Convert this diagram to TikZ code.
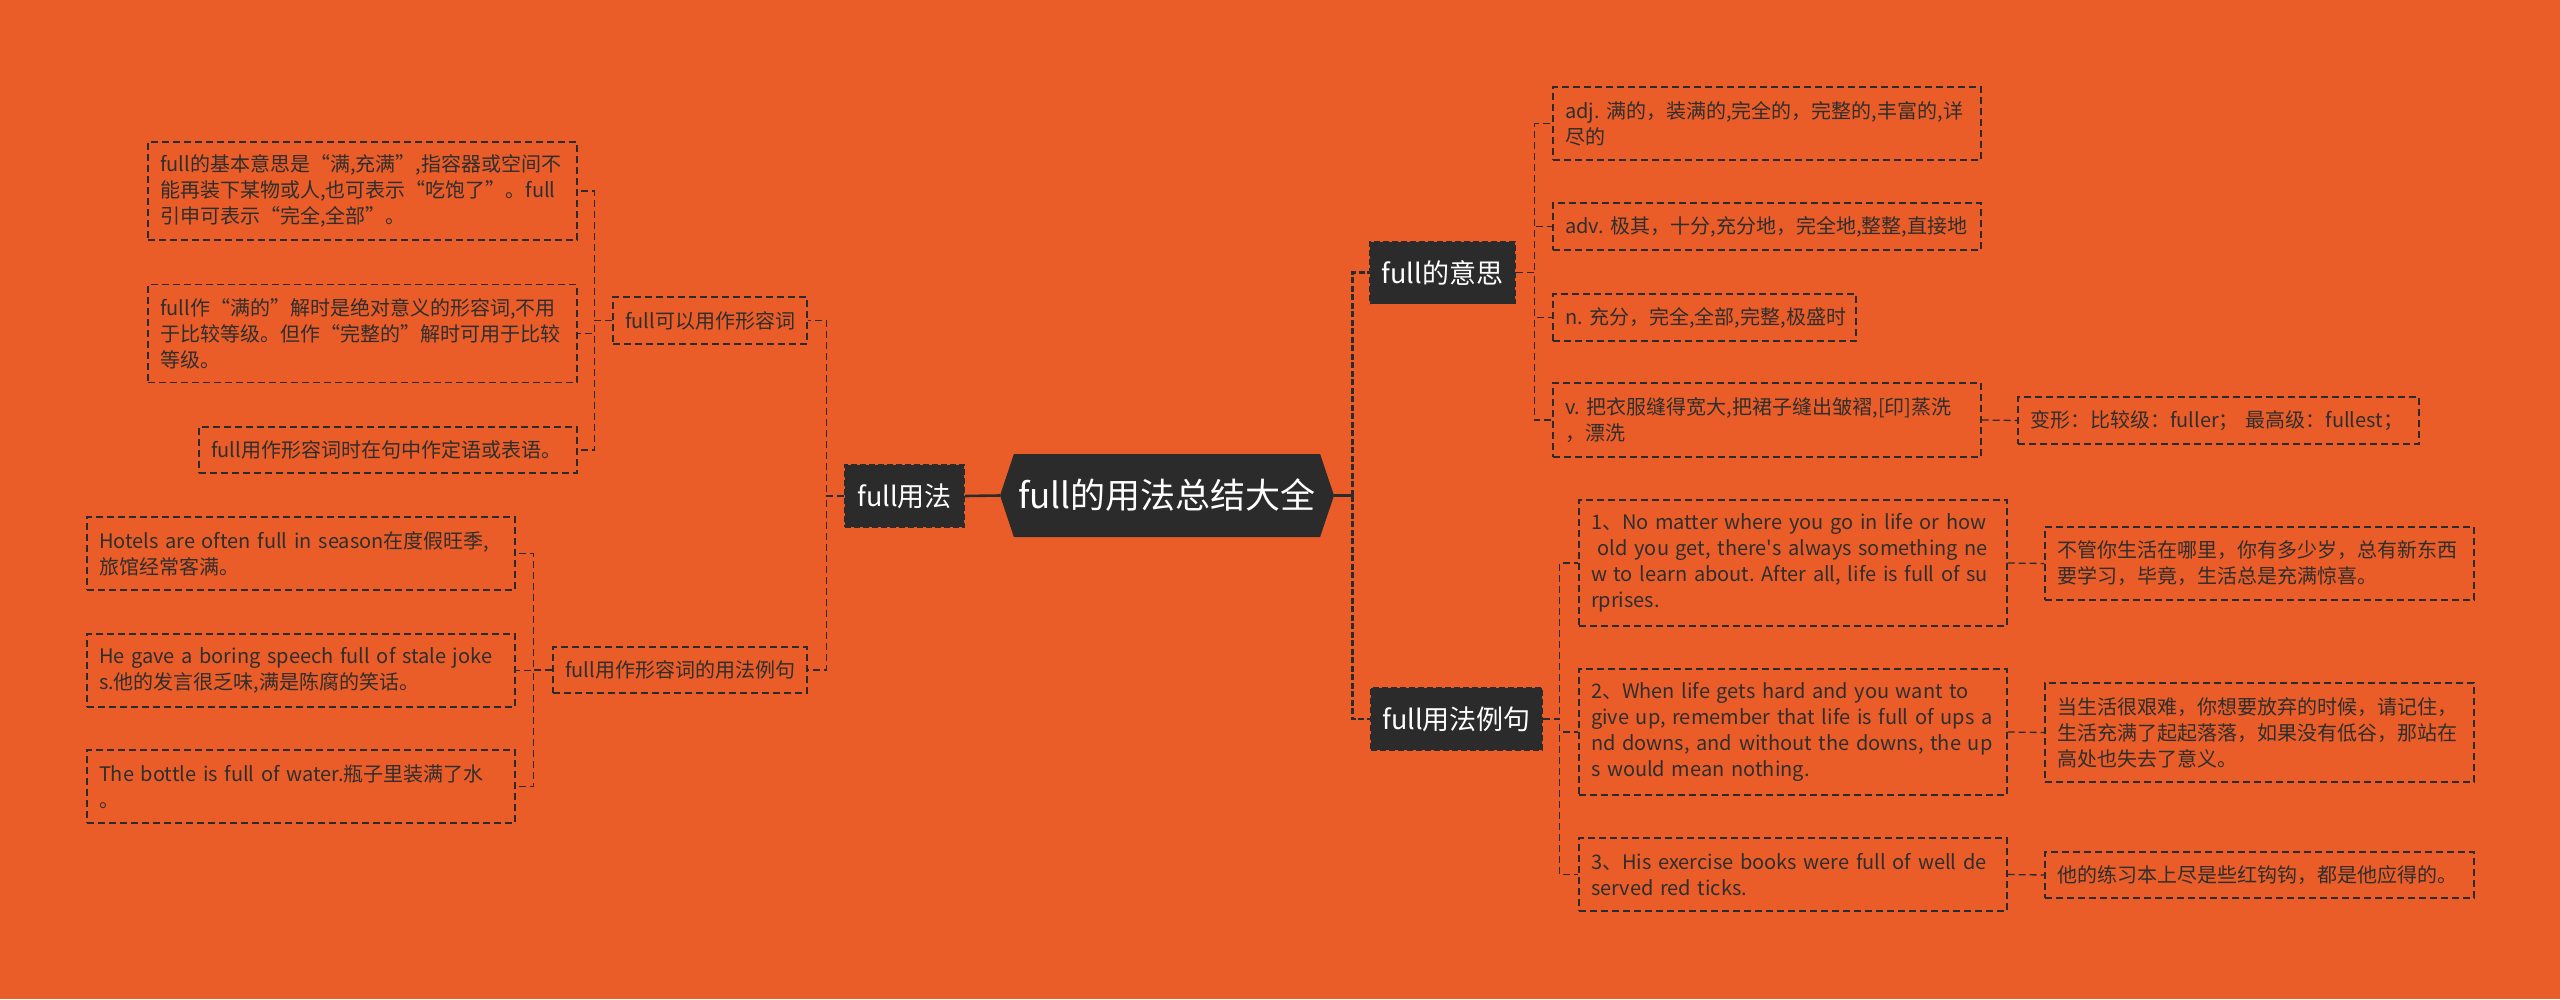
\documentclass[tikz,border=0pt]{standalone}
\usepackage{fontspec}
\setmainfont{Noto Sans CJK SC}[Ligatures=TeXOff]
\usetikzlibrary{shapes.symbols}
\definecolor{bg}{HTML}{EA5D28}
\definecolor{dk}{HTML}{2B2B2B}
\definecolor{tx}{HTML}{2E2E2E}
\frenchspacing
\begin{document}
\begin{tikzpicture}[x=1pt,y=-1pt,
 leaf/.style={draw=dk, line width=1.3pt, dash pattern=on 7pt off 4pt, text=tx,
   font=\fontsize{20}{26}\selectfont, align=left, inner xsep=12pt, inner ysep=0pt},
 lf/.style 2 args={leaf, text width=#1, minimum height=#2},
 topic/.style={fill=dk, draw=dk, line width=1.5pt, dash pattern=on 6pt off 3pt, text=white,
   font=\fontsize{27}{32}\selectfont, inner sep=0pt, minimum height=62pt},
 conn/.style={draw=dk, line width=1.3pt, dash pattern=on 7pt off 4pt},
 mainconn/.style={draw=dk, line width=2.6pt, dash pattern=on 6pt off 2.5pt},
 stub/.style={draw=dk, line width=2.6pt}
]
\fill[bg] (0,0) rectangle (2560,999);
\useasboundingbox (0,0) rectangle (2560,999);

% root and topics
\node[signal, signal to=west and east, signal pointer angle=143, fill=dk, text=white,
  font=\fontsize{35}{40}\selectfont, minimum width=334pt, minimum height=83pt, inner sep=0pt]
  (root) at (1167,495.5) {full的用法总结大全};
\node[topic, minimum width=119pt] (L1) at (904.5,496) {full用法};
\node[topic, minimum width=145pt] (R1) at (1442.5,272.5) {full的意思};
\node[topic, minimum width=171pt] (R2) at (1456.5,719) {full用法例句};

% left branch
\node[lf={170pt}{47pt}] (K1) at (710,320.5) {\mbox{full可以用作形容词}};
\node[lf={230pt}{46pt}] (K2) at (680,670) {\mbox{full用作形容词的用法例句}};
\node[lf={405pt}{98pt}] (A) at (362.5,191) {\mbox{full的基本意思是“满,充满”,指容器或空间不}\\\mbox{能再装下某物或人,也可表示“吃饱了”。full}\\\mbox{引申可表示“完全,全部”。}};
\node[lf={405pt}{98pt}] (B) at (362.5,333.5) {\mbox{full作“满的”解时是绝对意义的形容词,不用}\\\mbox{于比较等级。但作“完整的”解时可用于比较}\\\mbox{等级。}};
\node[lf={354pt}{46pt}] (C) at (388,450) {\mbox{full用作形容词时在句中作定语或表语。}};
\node[lf={404pt}{73pt}] (H1) at (301,553.5) {\mbox{Hotels are often full in season在度假旺季,}\\\mbox{旅馆经常客满。}};
\node[lf={404pt}{73pt}] (H2) at (301,670.5) {\mbox{He gave a boring speech full of stale joke}\\\mbox{s.他的发言很乏味,满是陈腐的笑话。}};
\node[lf={404pt}{73pt}] (H3) at (301,786.5) {\mbox{The bottle is full of water.瓶子里装满了水}\\\mbox{。}};

% right branch: meanings
\node[lf={404pt}{73pt}] (adj) at (1767,123.5) {\mbox{adj. 满的，装满的,完全的，完整的,丰富的,详}\\\mbox{尽的}};
\node[lf={404pt}{47pt}] (adv) at (1767,226.5) {\mbox{adv. 极其，十分,充分地，完全地,整整,直接地}};
\node[lf={279pt}{47pt}] (nn) at (1704.5,317.5) {\mbox{n. 充分，完全,全部,完整,极盛时}};
\node[lf={404pt}{74pt}] (vv) at (1767,420) {\mbox{v. 把衣服缝得宽大,把裙子缝出皱褶,[印]蒸洗}\\\mbox{，漂洗}};
\node[lf={377pt}{47pt}] (bx) at (2218.5,420.5) {\mbox{变形：比较级：fuller； 最高级：fullest；}};

% right branch: examples
\node[lf={404pt}{126pt}] (ex1) at (1793,563) {\mbox{1、No matter where you go in life or how}\\\mbox{ old you get, there's always something ne}\\\mbox{w to learn about. After all, life is full of su}\\\mbox{rprises.}};
\node[lf={405pt}{73pt}] (tr1) at (2259.5,563.5) {\mbox{不管你生活在哪里，你有多少岁，总有新东西}\\\mbox{要学习，毕竟，生活总是充满惊喜。}};
\node[lf={404pt}{126pt}] (ex2) at (1793,732) {\mbox{2、When life gets hard and you want to}\\\mbox{give up, remember that life is full of ups a}\\\mbox{nd downs, and without the downs, the up}\\\mbox{s would mean nothing.}};
\node[lf={405pt}{99pt}] (tr2) at (2259.5,732.5) {\mbox{当生活很艰难，你想要放弃的时候，请记住，}\\\mbox{生活充满了起起落落，如果没有低谷，那站在}\\\mbox{高处也失去了意义。}};
\node[lf={404pt}{73pt}] (ex3) at (1793,874.5) {\mbox{3、His exercise books were full of well de}\\\mbox{served red ticks.}};
\node[lf={405pt}{46pt}] (tr3) at (2259.5,875) {\mbox{他的练习本上尽是些红钩钩，都是他应得的。}};

% connectors
\draw[stub] (root.west) -- (L1.east);
\draw[stub] (root.east) -- ++(18,0) coordinate (rs);
\draw[mainconn] (rs) |- (R1.west);
\draw[mainconn] (rs) |- (R2.west);

\draw[conn] (L1.west) -- ++(-18,0) |- (K1.east);
\draw[conn] (L1.west) -- ++(-18,0) |- (K2.east);
\foreach \c in {A,B,C} \draw[conn] (K1.west) -- ++(-18,0) |- (\c.east);
\foreach \c in {H1,H2,H3} \draw[conn] (K2.west) -- ++(-19,0) |- (\c.east);

\foreach \c in {adj,adv,nn,vv} \draw[conn] (R1.east) -- ++(19,0) |- (\c.west);
\draw[conn] (vv.east) -- (bx.west);
\foreach \c in {ex1,ex2,ex3} \draw[conn] (R2.east) -- ++(17,0) |- (\c.west);
\draw[conn] (ex1.east) -- (tr1.west);
\draw[conn] (ex2.east) -- (tr2.west);
\draw[conn] (ex3.east) -- (tr3.west);
\end{tikzpicture}
\end{document}
